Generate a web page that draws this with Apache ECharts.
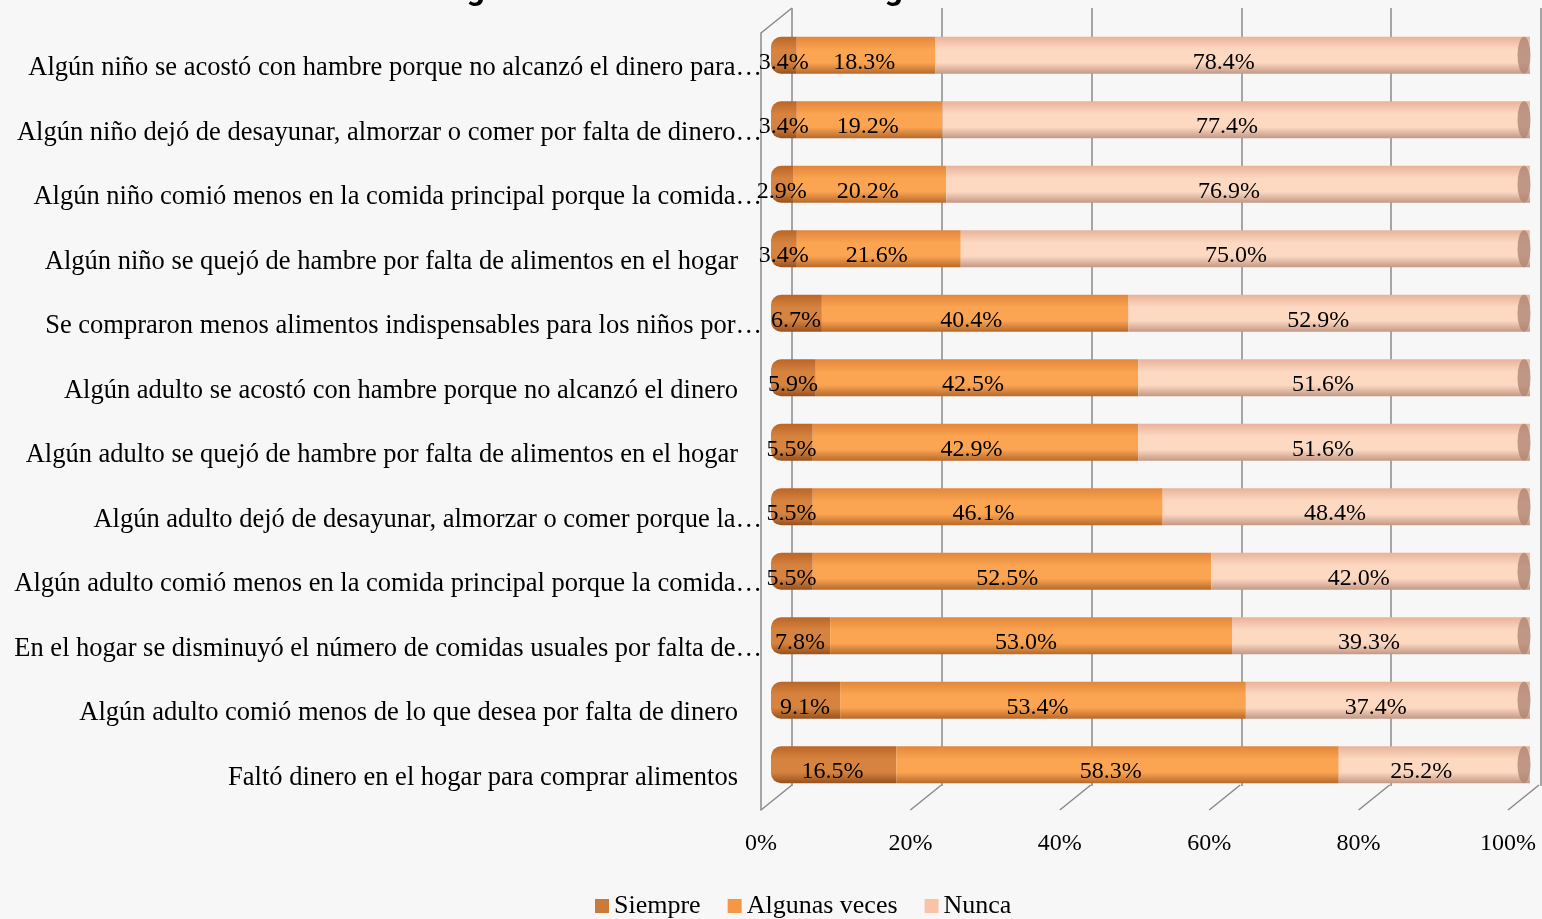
<!DOCTYPE html>
<html>
<head>
<meta charset="utf-8">
<script src="https://cdn.jsdelivr.net/npm/echarts@6/dist/echarts.min.js"></script>
<style>
  html, body { margin: 0; padding: 0; background: #f7f7f7; }
  #main { width: 1542px; height: 919px; }
</style>
</head>
<body>
<div id="main"></div>
<script>
// categorias, de arriba hacia abajo (tal como aparecen, truncadas)
var categorias = [
  'Algún niño se acostó con hambre porque no alcanzó el dinero para…',
  'Algún niño dejó de desayunar, almorzar o comer por falta de dinero…',
  'Algún niño comió menos en la comida principal porque la comida…',
  'Algún niño se quejó de hambre por falta de alimentos en el hogar',
  'Se compraron menos alimentos indispensables para los niños por…',
  'Algún adulto se acostó con hambre porque no alcanzó el dinero',
  'Algún adulto se quejó de hambre por falta de alimentos en el hogar',
  'Algún adulto dejó de desayunar, almorzar o comer porque la…',
  'Algún adulto comió menos en la comida principal porque la comida…',
  'En el hogar se disminuyó el número de comidas usuales por falta de…',
  'Algún adulto comió menos de lo que desea por falta de dinero',
  'Faltó dinero en el hogar para comprar alimentos'
];
var siempre      = [3.4, 3.4, 2.9, 3.4, 6.7, 5.9, 5.5, 5.5, 5.5, 7.8, 9.1, 16.5];
var algunasVeces = [18.3, 19.2, 20.2, 21.6, 40.4, 42.5, 42.9, 46.1, 52.5, 53.0, 53.4, 58.3];
var nunca        = [78.4, 77.4, 76.9, 75.0, 52.9, 51.6, 51.6, 48.4, 42.0, 39.3, 37.4, 25.2];
var ticksPct     = [0, 20, 40, 60, 80, 100];

var serif = '"Liberation Serif", "DejaVu Serif", serif';
var gris = '#8a8a8a';

// 100% apilado: normalizar cada fila
var totales = siempre.map(function (v, i) { return v + algunasVeces[i] + nunca[i]; });
function norm(arr) { return arr.map(function (v, i) { return v / totales[i] * 100; }); }

function cilindro(top, mid, bottom) {
  return new echarts.graphic.LinearGradient(0, 0, 0, 1, [
    { offset: 0, color: top },
    { offset: 0.35, color: mid },
    { offset: 0.7, color: mid },
    { offset: 1, color: bottom }
  ]);
}

function serieBarra(nombre, datos, color, radio) {
  return {
    name: nombre,
    type: 'bar',
    stack: 'total',
    xAxisIndex: 0,
    yAxisIndex: 0,
    barWidth: 37,
    data: norm(datos),
    itemStyle: { color: color, borderRadius: radio }
  };
}

// etiquetas: Excel las proyecta un poco hacia la izquierda (3D), van en su propia rejilla
function serieEtiqueta(datos) {
  return {
    type: 'bar',
    stack: 'etiquetas',
    xAxisIndex: 3,
    yAxisIndex: 3,
    barWidth: 37,
    silent: true,
    data: norm(datos),
    itemStyle: { color: 'rgba(0,0,0,0)' },
    label: {
      show: true,
      position: 'inside',
      offset: [0, 7],
      color: '#000',
      fontFamily: serif,
      fontSize: 24,
      formatter: function (p) { return datos[p.dataIndex].toFixed(1) + '%'; }
    },
    z: 4
  };
}

var chart = echarts.init(document.getElementById('main'));
var option = {
  backgroundColor: '#f7f7f7',
  animation: false,
  title: {
    text: 'Seguridad alimentaria en los hogares con niños',
    left: 'center',
    top: -29,
    textStyle: { fontFamily: 'Roboto, sans-serif', fontWeight: 'bold', fontSize: 32, color: '#000' }
  },
  legend: {
    bottom: -5,
    left: 590,
    itemWidth: 14,
    itemHeight: 14,
    itemGap: 27,
    icon: 'rect',
    textStyle: { fontFamily: serif, fontSize: 26, color: '#000' },
    data: [
      { name: 'Siempre', itemStyle: { color: '#cc7a38' } },
      { name: 'Algunas veces', itemStyle: { color: '#f79646' } },
      { name: 'Nunca', itemStyle: { color: '#fac3a6' } }
    ]
  },
  grid: [
    // barras
    { left: 771, right: 12, top: 23, bottom: 122 },
    // pared del fondo
    { left: 792, right: 1, top: 8, bottom: 133 },
    // piso frontal
    { left: 761, right: 34, top: 33, bottom: 109 },
    // etiquetas de datos
    { left: 771, right: 27, top: 23, bottom: 122 }
  ],
  xAxis: [
    { gridIndex: 0, type: 'value', min: 0, max: 100, show: false },
    {
      gridIndex: 1, type: 'value', min: 0, max: 100, interval: 20,
      axisLine: { show: false }, axisTick: { show: false }, axisLabel: { show: false },
      splitLine: { show: true, lineStyle: { color: gris, width: 1.5 } }
    },
    {
      gridIndex: 2, type: 'value', min: 0, max: 100, interval: 20,
      axisLine: { show: false }, axisTick: { show: false }, splitLine: { show: false },
      axisLabel: { margin: 22, color: '#000', fontFamily: serif, fontSize: 24, formatter: '{value}%' }
    },
    { gridIndex: 3, type: 'value', min: 0, max: 100, show: false }
  ],
  yAxis: [
    {
      gridIndex: 0, type: 'category', inverse: true, data: categorias,
      axisLine: { show: false }, axisTick: { show: false },
      axisLabel: {
        margin: 9,
        align: 'right',
        color: '#000',
        fontFamily: serif,
        fontSize: 26.5,
        padding: [26, 0, 0, 0],
        formatter: function (v) {
          return v.charAt(v.length - 1) === '…' ? v : v + '{pad|}';
        },
        rich: { pad: { width: 24 } }
      }
    },
    { gridIndex: 1, type: 'value', min: 0, max: 1, show: false },
    {
      gridIndex: 2, type: 'value', min: 0, max: 1,
      axisLine: { show: true, lineStyle: { color: gris, width: 1.5 } },
      axisTick: { show: false }, axisLabel: { show: false }, splitLine: { show: false }
    },
    { gridIndex: 3, type: 'category', inverse: true, data: categorias, show: false }
  ],
  series: [
    serieBarra('Siempre', siempre, cilindro('#bb6526', '#d68340', '#97511d'), [10, 0, 0, 10]),
    serieBarra('Algunas veces', algunasVeces, cilindro('#e3873a', '#fba452', '#b8692a'), 0),
    serieBarra('Nunca', nunca, cilindro('#e8b39a', '#fed9c2', '#c29884'), 0),
    serieEtiqueta(siempre),
    serieEtiqueta(algunasVeces),
    serieEtiqueta(nunca),
    {
      // tapa del cilindro
      type: 'scatter',
      xAxisIndex: 0,
      yAxisIndex: 0,
      symbol: 'circle',
      symbolSize: [13, 37],
      symbolOffset: [-6, 0],
      silent: true,
      itemStyle: { color: '#b08474' },
      data: categorias.map(function (c) { return [100, c]; }),
      z: 3
    },
    {
      // lineas del piso 3D
      type: 'custom',
      xAxisIndex: 2,
      yAxisIndex: 2,
      silent: true,
      data: ticksPct.map(function (t) { return [t, 0]; }).concat([[0, 1]]),
      renderItem: function (params, api) {
        var p = api.coord([api.value(0), api.value(1)]);
        return {
          type: 'line',
          shape: { x1: p[0], y1: p[1], x2: p[0] + 31, y2: p[1] - 25 },
          style: { stroke: gris, lineWidth: 1.5 }
        };
      }
    }
  ]
};
chart.setOption(option);
</script>
</body>
</html>
